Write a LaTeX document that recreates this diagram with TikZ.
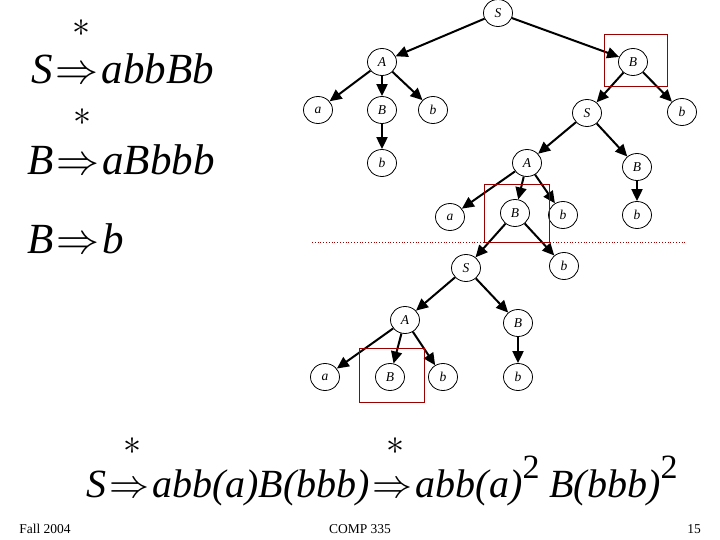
\documentclass[tikz,border=0pt]{standalone}
\usepackage{fix-cm}
\usepackage{fontspec}
\setmainfont{Liberation Serif}
\usetikzlibrary{arrows.meta,shapes.geometric}
\newcommand{\frm}{\fontsize{43}{46}\selectfont\itshape}
\newcommand{\frmb}{\fontsize{40}{44}\selectfont\itshape}
\newcommand{\sq}{\smash{\raisebox{19pt}{\upshape\fontsize{34}{34}\selectfont 2}}}
\newcommand{\imp}{\kern3pt$\Rightarrow$\kern3pt}
\tikzset{
  >={Triangle[length=12pt,width=11pt]},
  vtx/.style  ={ellipse, draw, line width=0.8pt, minimum width=29pt,
                minimum height=27pt, inner sep=0pt,
                font=\fontsize{13.5}{14}\selectfont\itshape},
  der/.style  ={->, draw, line width=2pt},
  hl/.style   ={draw=red!60!black, line width=0.9pt},
  cut/.style  ={draw=red!60!black, line width=0.8pt, dotted},
  fml/.style  ={anchor=base west, inner sep=0pt, font=\frm},
  star/.style ={anchor=base, inner sep=0pt, text depth=0pt,
                font=\fontsize{36}{36}\selectfont},
  foot/.style ={anchor=base, inner sep=0pt, font=\fontsize{13.5}{14}\selectfont},
}
\begin{document}
\begin{tikzpicture}[x=1pt,y=-1pt]
\useasboundingbox (0,0) rectangle (720,540);
\node[star] (st1) at (81,37)  {$\ast$};
\node[fml]  (f1)  at (31,84)  {S\imp abbBb};
\node[star] (st2) at (82,126) {$\ast$};
\node[fml]  (f2)  at (27,175) {B\imp aBbbb};
\node[fml]  (f3)  at (27,254) {B\imp b};
\node[vtx] (s0)  at (498,13)  {S};
\node[vtx] (a1)  at (382,62)  {A};
\node[vtx] (b1)  at (633,62)  {B};
\node[vtx] (ta1) at (318,110) {a};
\node[vtx] (b2)  at (382,110) {B};
\node[vtx] (tb1) at (433,110) {b};
\node[vtx] (tb2) at (382,163) {b};
\node[vtx] (s1)  at (587,113) {S};
\node[vtx] (tb3) at (682,112) {b};
\node[vtx] (a2)  at (527,163) {A};
\node[vtx] (b3)  at (637,167) {B};
\node[vtx] (tb4) at (637,215) {b};
\node[vtx] (ta2) at (450,217) {a};
\node[vtx] (b4)  at (515,213) {B};
\node[vtx] (tb5) at (563,215) {b};
\node[vtx] (s2)  at (466,268) {S};
\node[vtx] (tb6) at (564,266) {b};
\node[vtx] (a3)  at (405,320) {A};
\node[vtx] (b5)  at (518,323) {B};
\node[vtx] (ta3) at (325,377) {a};
\node[vtx] (b6)  at (390,377) {B};
\node[vtx] (tb7) at (443,377) {b};
\node[vtx] (tb8) at (518,377) {b};
\draw[der] (s0) -- (a1);
\draw[der] (s0) -- (b1);
\draw[der] (a1) -- (ta1);
\draw[der] (a1) -- (b2);
\draw[der] (a1) -- (tb1);
\draw[der] (b2) -- (tb2);
\draw[der] (b1) -- (s1);
\draw[der] (b1) -- (tb3);
\draw[der] (s1) -- (a2);
\draw[der] (s1) -- (b3);
\draw[der] (b3) -- (tb4);
\draw[der] (a2) -- (ta2);
\draw[der] (a2) -- (b4);
\draw[der] (a2) -- (tb5);
\draw[der] (b4) -- (s2);
\draw[der] (b4) -- (tb6);
\draw[der] (s2) -- (a3);
\draw[der] (s2) -- (b5);
\draw[der] (a3) -- (ta3);
\draw[der] (a3) -- (b6);
\draw[der] (a3) -- (tb7);
\draw[der] (b5) -- (tb8);
\draw[hl] (604,34) rectangle (667,86);
\draw[hl] (484,184) rectangle (549,242);
\draw[hl] (359,348) rectangle (424,402);
\draw[cut] (312,242) -- (685,242);
\node[star] (st3) at (132,454) {$\ast$};
\node[star] (st4) at (395,454) {$\ast$};
\node[fml,font=\frmb] (f4) at (86,497)
  {S\imp abb(a)B(bbb)\imp abb(a)\sq\ B(bbb)\sq};
\node[foot] (ft1) at (45,533)  {Fall 2004};
\node[foot] (ft2) at (360,533) {COMP 335};
\node[foot] (ft3) at (694,533) {15};
\end{tikzpicture}
\end{document}
